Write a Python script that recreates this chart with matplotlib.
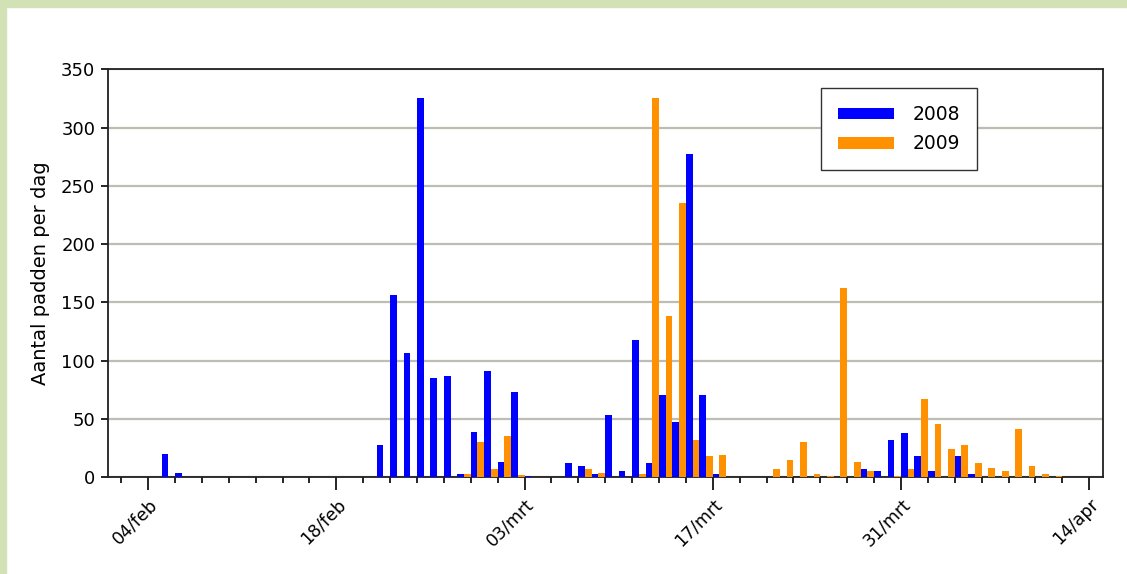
import numpy as np
import matplotlib.pyplot as plt
from matplotlib.patches import Rectangle

# dag 0 = 04/feb, een waarde per dag t/m 14/apr
padden_2008 = [0, 20, 4, 0, 0, 0, 0, 0, 0, 0,
               0, 0, 0, 0, 0, 0, 0, 28, 156, 107,
               325, 85, 87, 3, 39, 91, 13, 73, 1, 0,
               0, 12, 10, 3, 53, 5, 118, 12, 71, 47,
               277, 71, 3, 0, 0, 0, 0, 0, 0, 0,
               0, 0, 0, 7, 5, 32, 38, 18, 5, 0,
               18, 3, 0, 0, 0, 0, 0, 0, 0, 0,
               0]
padden_2009 = [0, 0, 0, 0, 0, 0, 0, 0, 0, 0,
               0, 0, 0, 0, 0, 0, 0, 0, 0, 0,
               0, 0, 0, 3, 30, 7, 35, 2, 0, 0,
               0, 0, 7, 4, 0, 0, 3, 325, 138, 235,
               32, 18, 19, 0, 0, 0, 7, 15, 30, 3,
               1, 162, 13, 5, 0, 1, 7, 67, 46, 24,
               28, 12, 8, 5, 41, 10, 3, 1, 0, 0,
               0]
tick_dagen = [0, 14, 28, 42, 56, 70]
tick_labels = ['04/feb', '18/feb', '03/mrt', '17/mrt', '31/mrt', '14/apr']

dagen = np.arange(len(padden_2008))

fig = plt.figure(figsize=(11.27, 5.74), dpi=100)
# lichtgroene rand boven en links
fig.patches.append(Rectangle((0, 0.988), 1, 0.012, transform=fig.transFigure,
                             color='#d3e2b4', zorder=0))
fig.patches.append(Rectangle((0, 0), 0.0055, 1, transform=fig.transFigure,
                             color='#d3e2b4', zorder=0))

ax = fig.add_axes([0.0956, 0.1685, 0.8828, 0.7108])

ax.bar(dagen, padden_2008, width=0.5, align='edge', color='#0000ff',
       linewidth=0, label='2008', zorder=3)
ax.bar(dagen + 0.5, padden_2009, width=0.5, align='edge', color='#ff9100',
       linewidth=0, label='2009', zorder=3)

ax.set_xlim(-3, 71)
ax.set_ylim(0, 350)
ax.set_yticks(np.arange(0, 351, 50))
ax.yaxis.grid(True, color='#bdbdb3', linewidth=1.6, zorder=0)
ax.set_axisbelow(True)

ax.set_xticks(tick_dagen)
ax.set_xticklabels(tick_labels, rotation=45, ha='right', rotation_mode='anchor')
ax.set_xticks(np.arange(-2, 71, 2), minor=True)
ax.tick_params(axis='x', which='major', length=9, width=1.2, labelsize=12.5, pad=4)
ax.tick_params(axis='x', which='minor', length=4, width=1.2)
ax.tick_params(axis='y', length=5, width=1.2, labelsize=13, pad=4)

for s in ax.spines.values():
    s.set_linewidth(1.3)
    s.set_color('#202020')

ax.set_ylabel('Aantal padden per dag', fontsize=14, labelpad=8)

ax.legend(loc='upper left', bbox_to_anchor=(0.7285, 0.8462),
          bbox_transform=fig.transFigure, fontsize=13.5, fancybox=False,
          edgecolor='#333333', framealpha=1, handlelength=3.0,
          handleheight=0.6, borderpad=0.9, labelspacing=0.55,
          handletextpad=1.0, borderaxespad=0)

plt.savefig('out.png', dpi=100)
